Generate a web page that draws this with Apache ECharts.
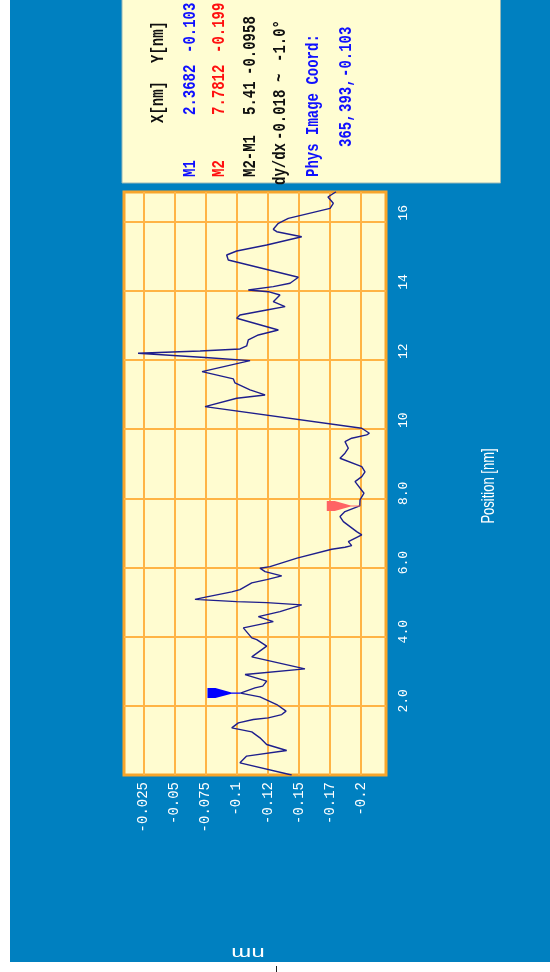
<!DOCTYPE html>
<html><head><meta charset="utf-8">
<script src="https://cdn.jsdelivr.net/npm/echarts@6/dist/echarts.min.js"></script>
<style>
html,body{margin:0;padding:0;background:#fff;width:550px;height:972px;overflow:hidden;}
#chart{position:absolute;left:10px;top:0;width:540px;height:962px;}
#tick{position:absolute;left:276px;top:966px;width:1px;height:6px;background:#222;}
</style></head><body>
<div id="chart"></div><div id="tick"></div>
<script>
// ---- data ----
const positionNm = [0.000,0.352,0.546,0.708,0.881,1.075,1.248,1.364,1.509,1.604,1.653,1.748,1.847,2.038,2.260,2.368,2.520,2.570,2.714,2.905,3.070,3.417,3.726,3.917,3.966,4.255,4.437,4.582,4.726,4.920,4.986,5.015,5.079,5.151,5.296,5.362,5.556,5.651,5.758,5.883,5.981,6.027,6.270,6.530,6.588,6.634,6.750,6.944,7.039,7.328,7.473,7.617,7.781,7.955,8.149,8.485,8.629,8.765,8.918,9.161,9.306,9.450,9.641,9.739,9.835,9.884,10.028,10.653,10.896,10.991,11.136,11.338,11.454,11.665,11.983,12.075,12.197,12.263,12.321,12.408,12.581,12.726,12.870,13.208,13.304,13.448,13.544,13.688,13.882,13.977,14.027,14.122,14.220,14.394,14.894,15.038,15.154,15.328,15.567,15.712,15.781,15.955,16.099,16.388,16.533,16.715,16.868];
const heightNm = [-0.1442,-0.1026,-0.1080,-0.1402,-0.1241,-0.1187,-0.1121,-0.0960,-0.1013,-0.1133,-0.1254,-0.1362,-0.1397,-0.1322,-0.1187,-0.1030,-0.1147,-0.1209,-0.1241,-0.1067,-0.1549,-0.1121,-0.1241,-0.1161,-0.1121,-0.1053,-0.1294,-0.1174,-0.1348,-0.1523,-0.1241,-0.1000,-0.0664,-0.0759,-0.0960,-0.1026,-0.1121,-0.1241,-0.1362,-0.1228,-0.1187,-0.1268,-0.1485,-0.1764,-0.1871,-0.1925,-0.1898,-0.2006,-0.1965,-0.1858,-0.1831,-0.1871,-0.1990,-0.1992,-0.2024,-0.1952,-0.2006,-0.2032,-0.2006,-0.1831,-0.1871,-0.1898,-0.1871,-0.1925,-0.2046,-0.2067,-0.2006,-0.0745,-0.1000,-0.1228,-0.1107,-0.0986,-0.0973,-0.0721,-0.1107,-0.0745,-0.0206,-0.0705,-0.1026,-0.1080,-0.1093,-0.1174,-0.1335,-0.1000,-0.1026,-0.1241,-0.1389,-0.1294,-0.1348,-0.1254,-0.1093,-0.1294,-0.1429,-0.1496,-0.0932,-0.0919,-0.1000,-0.1241,-0.1523,-0.1322,-0.1294,-0.1335,-0.1415,-0.1751,-0.1777,-0.1734,-0.1799];

const heightTicks = [-0.025,-0.05,-0.075,-0.1,-0.125,-0.15,-0.175,-0.2];
const heightTickLabels = ['-0.025','-0.05','-0.075','-0.1','-0.12','-0.15','-0.17','-0.2'];
const positionTicks = [2,4,6,8,10,12,14,16];
const positionTickLabels = ['2.0','4.0','6.0','8.0','10','12','14','16'];

const markerNames = ['M1','M2'];
const markerPos = [2.3682, 7.7812];
const markerHeight = [-0.103, -0.199];

const xAxisName = 'Position [nm]';
const yAxisName = 'nm';
const infoHeader = ['X[nm]','Y[nm]'];
const infoM1 = ['M1','2.3682','-0.103'];
const infoM2 = ['M2','7.7812','-0.199'];
const infoDiff = ['M2-M1','5.41','-0.0958'];
const infoSlope = ['dy/dx','-0.018','~','-1.0\u00b0'];
const infoPhysTitle = ['Phys Image Coord:'];
const infoPhys = ['365,','393,','-0.103'];

// ---- layout / style ----
const OX = 10;
const BLUE_TXT = '#1010ff', RED_TXT = '#ff1010', BLACK_TXT = '#101010';
const markerColors = ['#0000ff','#ff6464'];
const flagPath = 'path://M0,0L8,0L24,4L33,4L33,5L24,5L8,9L0,9Z';
const monoFont = '"Liberation Mono", "DejaVu Sans Mono", monospace';

function lineTexts(cx, starts, texts, color) {
  return texts.map((t, i) => ({
    type: 'text', x: cx - OX, y: starts[i], rotation: Math.PI / 2, scaleY: 1.3, z: 10,
    style: { text: t, fill: color, fontFamily: monoFont, fontWeight: 'bold', fontSize: 14,
             align: 'left', verticalAlign: 'middle' }
  }));
}

const graphics = [
  { type: 'rect', shape: { x: 122 - OX, y: -3, width: 378.5, height: 186 }, z: 5,
    style: { fill: '#fffdd2', stroke: '#98b8b8', lineWidth: 1 } },
  ...lineTexts(158, [123, 63], infoHeader, BLACK_TXT),
  ...lineTexts(190, [177, 115, 53], infoM1, BLUE_TXT),
  ...lineTexts(219, [177, 115, 53], infoM2, RED_TXT),
  ...lineTexts(250, [177, 115, 75], infoDiff, BLACK_TXT),
  ...lineTexts(280, [185, 140, 82, 62], infoSlope, BLACK_TXT),
  ...lineTexts(313, [177], infoPhysTitle, BLUE_TXT),
  ...lineTexts(346, [147, 112, 77], infoPhys, BLUE_TXT),
  { type: 'text', x: 489 - OX, y: 486, rotation: Math.PI / 2, scaleY: 1.35, z: 10,
    style: { text: xAxisName, fill: '#ffffff', fontFamily: '"Liberation Sans", Arial, sans-serif',
             fontSize: 13, align: 'center', verticalAlign: 'middle' } },
  { type: 'text', x: 248 - OX, y: 952, rotation: Math.PI, scaleX: 1.5, z: 10,
    style: { text: yAxisName, fill: '#ffffff', fontFamily: '"Liberation Sans", Arial, sans-serif',
             fontSize: 16, align: 'center', verticalAlign: 'middle' } }
];

const chart = echarts.init(document.getElementById('chart'));
chart.setOption({
  animation: false,
  backgroundColor: '#0080c0',
  grid: { left: 124 - OX, right: 540 - (386 - OX), top: 192, bottom: 962 - 775,
          show: true, backgroundColor: '#fffcd0', borderColor: '#f7a52c', borderWidth: 3 },
  xAxis: {
    type: 'value', position: 'bottom', inverse: true, min: -0.2201, max: -0.0093,
    axisLine: { show: false }, axisTick: { show: false, customValues: heightTicks },
    splitLine: { show: true, lineStyle: { color: '#ffb445', width: 2 } },
    axisLabel: {
      customValues: heightTicks, rotate: 90, margin: 7, color: '#ffffff',
      fontFamily: monoFont, fontSize: 14,
      formatter: v => { const i = heightTicks.findIndex(t => Math.abs(t - v) < 1e-9); return i >= 0 ? heightTickLabels[i] : ''; }
    }
  },
  yAxis: {
    type: 'value', position: 'right', min: 0, max: 16.86,
    axisLine: { show: false }, axisTick: { show: false, customValues: positionTicks },
    splitLine: { show: true, lineStyle: { color: '#ffb445', width: 2 } },
    axisLabel: {
      customValues: positionTicks, rotate: 90, margin: 11, color: '#ffffff',
      fontFamily: monoFont, fontSize: 13, align: 'center', padding: [0, 0, 0, 10],
      formatter: v => { const i = positionTicks.findIndex(t => Math.abs(t - v) < 1e-9); const s = i >= 0 ? positionTickLabels[i] : ''; return s.length < 3 ? ' ' + s : s; }
    }
  },
  series: [
    { type: 'line', data: positionNm.map((p, i) => [heightNm[i], p]), symbol: 'none',
      lineStyle: { color: '#1e1e8c', width: 1.4 }, z: 3 },
    { type: 'scatter', z: 4,
      data: markerPos.map((p, i) => ({ name: markerNames[i], value: [markerHeight[i], p],
        symbol: flagPath, symbolSize: [33, 10], symbolOffset: [-16.5, 0],
        itemStyle: { color: markerColors[i], opacity: 1 } })) }
  ],
  graphic: { elements: graphics }
});
</script></body></html>
